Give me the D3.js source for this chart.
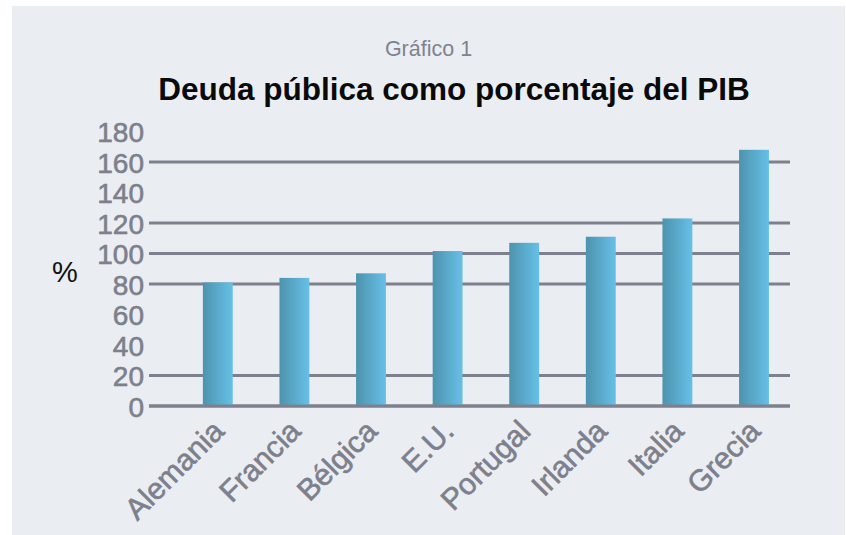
<!DOCTYPE html>
<html>
<head>
<meta charset="utf-8">
<script src="https://cdn.jsdelivr.net/npm/d3@7"></script>
<style>
  html, body { margin: 0; padding: 0; background: #ffffff; }
  svg { display: block; }
  text { font-family: "Liberation Sans", Arial, Helvetica, sans-serif; }
</style>
</head>
<body>
<svg id="chart" width="846" height="535"></svg>
<script>
const categories = ["Alemania", "Francia", "Bélgica", "E.U.", "Portugal", "Irlanda", "Italia", "Grecia"];
const values = [81, 84, 87, 101.6, 107, 111, 123, 168];
const yTicks = [0, 20, 40, 60, 80, 100, 120, 140, 160, 180];
const gridValues = [0, 20, 80, 100, 120, 160];

const svg = d3.select("#chart");

svg.append("rect").attr("x", 12).attr("y", 6).attr("width", 833).attr("height", 529).attr("fill", "#eaeef2");

const defs = svg.append("defs");
const grad = defs.append("linearGradient").attr("id", "barGrad").attr("x1", "0%").attr("x2", "100%").attr("y1", "0%").attr("y2", "0%");
grad.append("stop").attr("offset", "0%").attr("stop-color", "#4d93ad");
grad.append("stop").attr("offset", "100%").attr("stop-color", "#67c0e8");

const y = d3.scaleLinear().domain([0, 180]).range([406, 131.5]);
const x = d3.scaleBand().domain(categories).range([179.5, 792.3]).paddingInner(0.61).paddingOuter(0.305);

// gridlines
svg.append("g").selectAll("line").data(gridValues).join("line")
  .attr("x1", 149).attr("x2", 790)
  .attr("y1", d => y(d)).attr("y2", d => y(d))
  .attr("stroke", "#7e808e").attr("stroke-width", 3);

// bars
svg.append("g").selectAll("rect").data(categories).join("rect")
  .attr("x", d => x(d))
  .attr("width", x.bandwidth())
  .attr("y", (d, i) => y(values[i]))
  .attr("height", (d, i) => y(0) - y(values[i]))
  .attr("fill", "url(#barGrad)");

// baseline redraw on top
svg.append("line").attr("x1", 149).attr("x2", 790).attr("y1", y(0)).attr("y2", y(0))
  .attr("stroke", "#7e808e").attr("stroke-width", 3);

// y axis labels
const yAxis = d3.axisLeft(y).tickValues(yTicks).tickSize(0).tickPadding(0);
const gy = svg.append("g").attr("transform", "translate(144,0)").call(yAxis);
gy.select(".domain").remove();
gy.selectAll("text").attr("font-size", 28).attr("fill", "#7d808c")
  .attr("stroke", "#7d808c").attr("stroke-width", 0.6)
  .attr("font-family", "'Liberation Sans', Arial, sans-serif").attr("dy", "0.36em");

// x axis labels
const xAxis = d3.axisBottom(x).tickSize(0).tickPadding(0);
const gx = svg.append("g").attr("transform", "translate(0,406)").call(xAxis);
gx.select(".domain").remove();
gx.selectAll("text")
  .attr("font-size", 30).attr("fill", "#7d808c")
  .attr("stroke", "#7d808c").attr("stroke-width", 0.6)
  .attr("font-family", "'Liberation Sans', Arial, sans-serif")
  .attr("text-anchor", "end")
  .attr("dy", 0).attr("y", 0)
  .attr("transform", "translate(8,27) rotate(-45)");

// % label
svg.append("text").attr("x", 52).attr("y", 282).attr("font-size", 29).attr("fill", "#111").text("%");

// titles
svg.append("text").attr("x", 428.5).attr("y", 56).attr("text-anchor", "middle")
  .attr("font-size", 21.5).attr("fill", "#80838f").text("Gráfico 1");
svg.append("text").attr("x", 454).attr("y", 100).attr("text-anchor", "middle")
  .attr("font-size", 31.5).attr("font-weight", "bold").attr("fill", "#0a0a0a").text("Deuda pública como porcentaje del PIB");
</script>
</body>
</html>
